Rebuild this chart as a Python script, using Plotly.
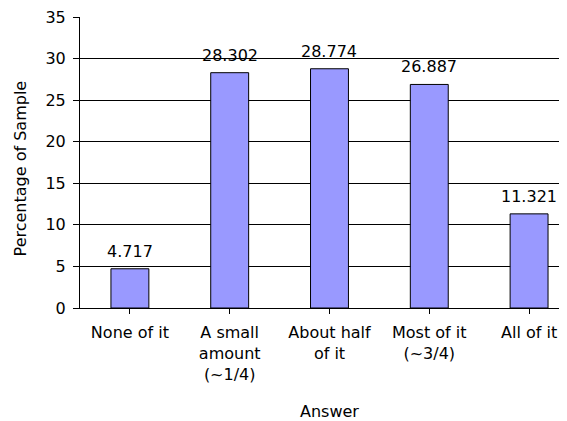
import plotly.graph_objects as go

categories = ["None of it", "A small<br>amount<br>(~1/4)", "About half<br>of it", "Most of it<br>(~3/4)", "All of it"]
values = [4.717, 28.302, 28.774, 26.887, 11.321]
value_labels = ["4.717", "28.302", "28.774", "26.887", "11.321"]
y_title = "Percentage of Sample"
x_title = "Answer"

FONT = "DejaVu Sans"
FS = 16
fig = go.Figure()
fig.add_trace(go.Bar(
    x=list(range(len(categories))), y=values,
    marker=dict(color="#9999FF", line=dict(color="#000000", width=1)),
    hoverinfo="skip",
))
for i, (v, t) in enumerate(zip(values, value_labels)):
    fig.add_annotation(x=i, y=v, text=t, showarrow=False, yanchor="bottom",
                       yshift=6, font=dict(family=FONT, size=FS, color="#000"))

fig.add_annotation(xref="paper", yref="paper", x=-0.123, y=0.48, text=y_title,
                   textangle=-90, showarrow=False, xanchor="center", yanchor="middle",
                   font=dict(family=FONT, size=FS, color="#000"))
fig.add_annotation(xref="paper", yref="paper", x=0.513, y=-0.354, text=x_title,
                   showarrow=False, xanchor="center", yanchor="middle",
                   font=dict(family=FONT, size=FS, color="#000"))

# page body has an 8px default margin: compensate so the plot area lands at 80..567 x 17..308
fig.update_layout(
    width=559, height=413,
    margin=dict(l=72, r=0, t=9, b=113, autoexpand=False),
    paper_bgcolor="white", plot_bgcolor="white",
    showlegend=False, bargap=0.62,
    font=dict(family=FONT, size=FS, color="#000"),
    xaxis=dict(
        tickmode="array", tickvals=list(range(len(categories))), ticktext=categories,
        range=[-0.5, 4.38], showgrid=False, showline=True, linecolor="#000", linewidth=1,
        ticks="outside", ticklen=5, tickcolor="#000", tickson="boundaries",
        tickangle=0, ticklabelstandoff=5, zeroline=False, automargin=False,
    ),
    yaxis=dict(
        range=[0, 35], dtick=5, showgrid=True, gridcolor="#000", gridwidth=1,
        showline=True, linecolor="#000", linewidth=1, ticks="outside", ticklen=6,
        tickcolor="#000", ticklabelstandoff=4, zeroline=False, automargin=False,
        ticklabeloverflow="allow",
    ),
)
fig.write_html("out.html")
